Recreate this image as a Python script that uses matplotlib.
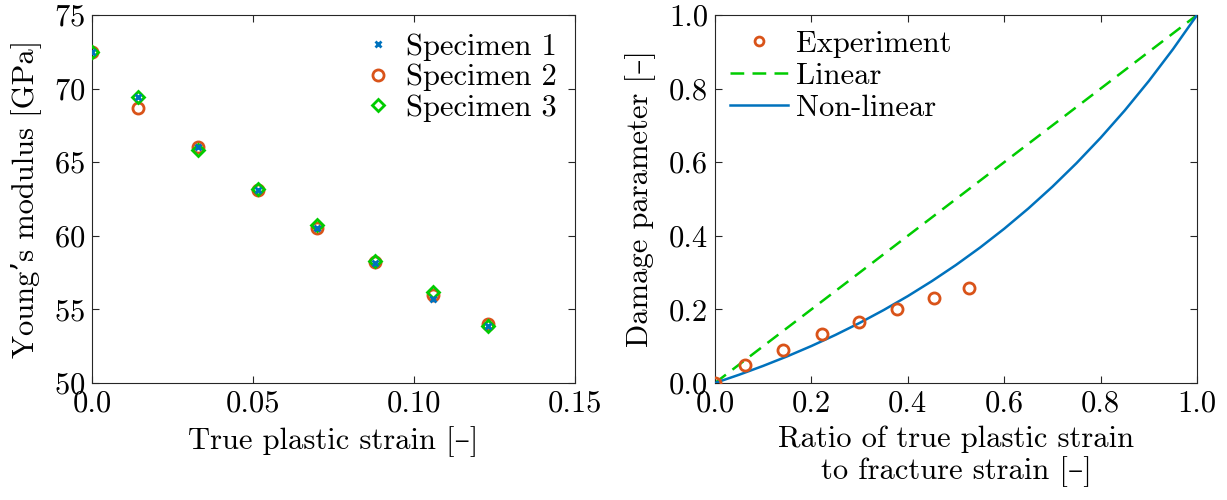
import matplotlib
matplotlib.use("Agg")
import matplotlib.pyplot as plt

plt.rcParams['font.family'] = ['cmr10', 'DejaVu Serif']
plt.rcParams['mathtext.fontset'] = 'cm'
plt.rcParams['axes.formatter.use_mathtext'] = True
plt.rcParams['font.size'] = 22

BLUE = '#0072BD'
ORANGE = '#D95319'
GREEN = '#00CC00'

# left panel: Young's modulus vs true plastic strain
strain = [0.0, 0.0143, 0.033, 0.0516, 0.070, 0.088, 0.106, 0.123]
spec1 = [72.5, 69.4, 66.0, 63.1, 60.5, 58.15, 55.7, 53.9]
spec2 = [72.5, 68.65, 66.0, 63.1, 60.5, 58.2, 56.0, 54.0]
spec3 = [72.5, 69.4, 65.8, 63.2, 60.7, 58.3, 56.15, 53.85]

# right panel: damage parameter
exp_ratio = [0.0, 0.062, 0.142, 0.223, 0.299, 0.377, 0.454, 0.527]
exp_damage = [0.0, 0.048, 0.091, 0.134, 0.167, 0.200, 0.230, 0.257]
lin_x = [0.0, 1.0]
lin_y = [0.0, 1.0]
nl_x = [0.0, 0.05, 0.10, 0.15, 0.20, 0.25, 0.30, 0.35, 0.40, 0.45, 0.50,
        0.55, 0.60, 0.65, 0.70, 0.75, 0.80, 0.85, 0.90, 0.95, 1.0]
nl_y = [0.0, 0.0224, 0.0465, 0.0725, 0.1005, 0.1307, 0.1632, 0.1983, 0.2361,
        0.2769, 0.3208, 0.3682, 0.4192, 0.4742, 0.5335, 0.5975, 0.6664,
        0.7406, 0.8207, 0.9070, 1.0]

fig = plt.figure(figsize=(12.27, 5), dpi=100)
ax1 = fig.add_axes([0.075, 0.234, 0.3936, 0.736])
ax2 = fig.add_axes([0.5827, 0.234, 0.3929, 0.736])

for ax in (ax1, ax2):
    ax.tick_params(direction='in', top=True, right=True, length=5, width=0.8,
                   colors='#262626', labelcolor='black', labelsize=22, pad=5)
    for s in ax.spines.values():
        s.set_color('#262626')
        s.set_linewidth(0.8)

ax1.plot(strain, spec2, 'o', ls='none', mfc='none', mec=ORANGE, ms=8, mew=2,
         label='Specimen 2', zorder=2)
ax1.plot(strain, spec3, 'D', ls='none', mfc='none', mec=GREEN, ms=6.5, mew=2,
         label='Specimen 3', zorder=3)
ax1.plot(strain, spec1, 'x', ls='none', color=BLUE, ms=4, mew=2,
         label='Specimen 1', zorder=4)
ax1.set_xlim(0, 0.15)
ax1.set_ylim(50, 75)
ax1.set_xticks([0, 0.05, 0.10, 0.15])
ax1.set_xticklabels(['0.0', '0.05', '0.10', '0.15'])
ax1.set_yticks([50, 55, 60, 65, 70, 75])
ax1.set_xlabel('True plastic strain [–]', fontsize=22, labelpad=6)
ax1.set_ylabel('Young’s modulus [GPa]', fontsize=22, labelpad=9)
h, l = ax1.get_legend_handles_labels()
order = [2, 0, 1]
ax1.legend([h[i] for i in order], [l[i] for i in order], loc='upper right',
           frameon=False, fontsize=22, handlelength=1.0, handletextpad=0.4,
           labelspacing=0.1, borderaxespad=0.4, borderpad=0.2)

ax2.plot(lin_x, lin_y, '--', color=GREEN, lw=1.8, dashes=(5.5, 3.3),
         label='Linear', zorder=2)
ax2.plot(nl_x, nl_y, '-', color=BLUE, lw=1.8, label='Non-linear', zorder=3)
ax2.plot(exp_ratio, exp_damage, 'o', ls='none', mfc='none', mec=ORANGE, ms=8,
         mew=2, label='Experiment', zorder=4)
ax2.set_xlim(0, 1)
ax2.set_ylim(0, 1)
ticks = [0.0, 0.2, 0.4, 0.6, 0.8, 1.0]
ax2.set_xticks(ticks)
ax2.set_yticks(ticks)
ax2.set_xticklabels(['{:.1f}'.format(t) for t in ticks])
ax2.set_yticklabels(['{:.1f}'.format(t) for t in ticks])
ax2.set_xlabel('Ratio of true plastic strain\nto fracture strain [–]', fontsize=22,
               linespacing=1.12, labelpad=6)
ax2.set_ylabel('Damage parameter [–]', fontsize=22, labelpad=9)
h, l = ax2.get_legend_handles_labels()
order = [2, 0, 1]
ax2.legend([h[i] for i in order], [l[i] for i in order], loc='upper left',
           frameon=False, fontsize=22, handlelength=1.9, handletextpad=0.25,
           labelspacing=0.15, borderaxespad=0.3, borderpad=0.2, markerscale=0.8)

fig.savefig('out.png', dpi=100)
